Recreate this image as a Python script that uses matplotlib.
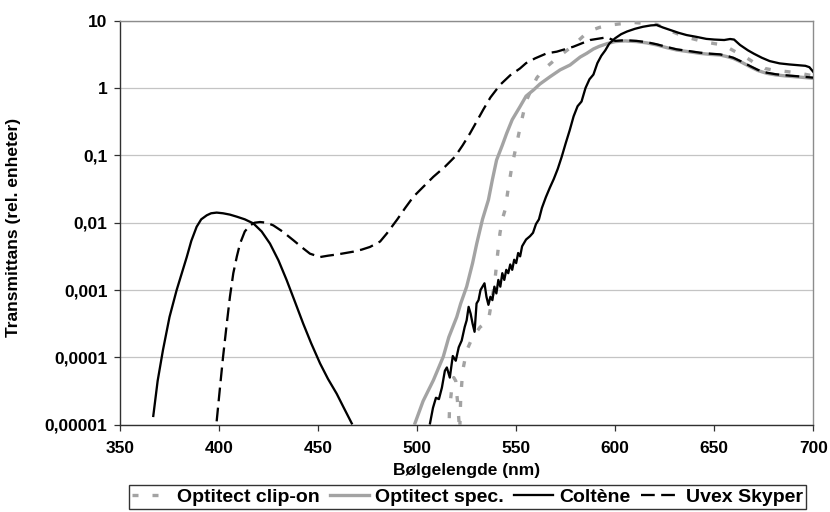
import numpy as np
import matplotlib
matplotlib.use("Agg")
import matplotlib.pyplot as plt
from matplotlib.ticker import FixedLocator, FixedFormatter

plt.rcParams['font.family'] = ['Liberation Sans', 'DejaVu Sans']
plt.rcParams['font.weight'] = 'bold'

# ---- data (log10 of transmittance) ----
clipon_wl = [516.0, 516.3, 517.5, 518.5, 519.5, 520.5, 521.5, 522.0, 523.0, 525.0, 528.0, 531.8,
             534.0, 536.0, 538.0, 539.3, 540.5, 541.8, 543.0, 544.4, 546.0, 547.8, 550.3,
             552.8, 555.0, 557.5, 560.4, 564.0, 568.8, 573.0, 578.0, 582.0, 586.4, 592.0,
             597.4, 603.0, 608.3, 615.0, 620.9, 626.0, 631.9, 638.0, 644.5, 650.0, 654.6,
             660.0, 665.5, 670.0, 675.6, 681.0, 687.4, 693.0, 698.4, 700.0]
clipon_log = [-5.2, -4.8, -4.45, -4.3, -4.35, -4.7, -5.1, -4.6, -4.2, -3.9, -3.7, -3.55,
              -3.5, -3.45, -3.1, -2.85, -2.5, -2.16, -1.95, -1.81, -1.49, -1.17, -0.82,
              -0.475, -0.2, -0.03, 0.15, 0.28, 0.40, 0.50, 0.614, 0.72, 0.84, 0.90,
              0.936, 0.955, 0.976, 0.96, 0.946, 0.87, 0.80, 0.74, 0.69, 0.66, 0.64,
              0.55, 0.465, 0.38, 0.29, 0.26, 0.242, 0.22, 0.19, 0.18]

spec_wl = [498.9, 503.0, 508.2, 513.2, 516.0, 520.0, 522.0, 525.0, 528.0, 530.1, 533.0, 536.0,
           538.0, 540.1, 543.0, 545.2, 548.0, 551.9, 555.0, 558.7, 562.0, 567.1, 572.2,
           577.2, 582.3, 585.6, 589.0, 592.0, 596.0, 600.0, 605.0, 610.8, 616.0, 620.9,
           626.0, 631.0, 637.0, 642.8, 648.0, 652.9, 656.0, 659.6, 664.0, 668.1, 672.0,
           676.5, 681.0, 686.6, 692.0, 696.0, 700.0]
spec_log = [-4.98, -4.65, -4.34, -3.99, -3.7, -3.40, -3.2, -2.95, -2.6, -2.31, -1.95, -1.66,
            -1.36, -1.07, -0.85, -0.673, -0.47, -0.278, -0.12, -0.03, 0.06, 0.168, 0.27,
            0.342, 0.46, 0.515, 0.58, 0.62, 0.66, 0.69, 0.70, 0.69, 0.67, 0.64,
            0.60, 0.565, 0.54, 0.515, 0.50, 0.49, 0.47, 0.44, 0.38, 0.316, 0.26,
            0.218, 0.195, 0.178, 0.165, 0.155, 0.144]

coltene_uv_wl = [366.8, 369.0, 371.7, 375.0, 378.6, 383.7, 386.0, 388.7, 391.0, 393.8, 396.0,
                 398.8, 402.0, 405.5, 408.9, 413.0, 417.3, 421.5, 425.7, 430.0, 434.1, 438.0,
                 442.5, 446.5, 451.0, 455.0, 459.4, 463.0, 467.0]
coltene_uv_log = [-4.87, -4.35, -3.89, -3.4, -3.0, -2.51, -2.27, -2.06, -1.95, -1.89, -1.86,
                  -1.85, -1.86, -1.88, -1.91, -1.95, -2.01, -2.13, -2.31, -2.56, -2.85, -3.15,
                  -3.50, -3.79, -4.09, -4.32, -4.54, -4.75, -4.98]
coltene_vis_wl = [506.5, 508.0, 509.5, 511.0, 512.5, 514.0, 515.0, 516.5, 518.0, 519.5, 521.0,
                  522.5, 524.0, 525.0, 526.0, 527.0, 528.0, 529.0, 530.0, 531.0, 532.0, 533.0,
                  534.0, 535.0, 536.0, 537.0, 538.0, 539.0, 540.0, 541.0, 542.0, 543.0, 544.0,
                  545.0, 546.0, 547.0, 548.0, 549.0, 550.0, 551.0, 552.0, 553.0, 555.0, 557.0,
                  558.5, 560.0, 561.5, 563.0, 565.0, 567.0, 569.0, 571.0, 573.0, 575.0, 577.0,
                  579.0, 581.0, 583.0, 585.0, 587.0, 589.0, 591.0, 593.0, 595.0, 597.0, 600.0,
                  603.0, 606.0, 610.0, 614.0, 618.0, 621.0, 624.0, 628.0, 632.0, 636.0, 641.0,
                  646.0, 650.0, 655.0, 658.0, 660.0, 663.0, 667.0, 670.0, 674.0, 678.0, 683.0,
                  688.0, 692.0, 696.0, 698.0, 700.0]
coltene_vis_log = [-4.98, -4.75, -4.6, -4.62, -4.45, -4.2, -4.15, -4.3, -3.98, -4.05, -3.85,
                   -3.75, -3.55, -3.45, -3.25, -3.35, -3.5, -3.62, -3.2, -3.15, -3.0, -2.95,
                   -2.9, -3.1, -3.22, -3.1, -3.15, -2.95, -3.05, -2.85, -2.95, -2.75, -2.85,
                   -2.7, -2.75, -2.62, -2.7, -2.55, -2.6, -2.45, -2.5, -2.35, -2.25, -2.2,
                   -2.15, -2.02, -1.95, -1.78, -1.62, -1.48, -1.35, -1.2, -1.02, -0.82, -0.63,
                   -0.42, -0.27, -0.2, 0.0, 0.13, 0.2, 0.37, 0.48, 0.56, 0.66, 0.74,
                   0.8, 0.84, 0.88, 0.91, 0.93, 0.936, 0.90, 0.86, 0.82, 0.787, 0.76,
                   0.73, 0.72, 0.713, 0.728, 0.72, 0.64, 0.56, 0.51, 0.45, 0.40, 0.366,
                   0.35, 0.34, 0.33, 0.31, 0.24]

uvex_wl = [398.8, 400.5, 402.0, 403.9, 405.5, 407.2, 409.0, 410.6, 413.0, 415.6, 418.0, 420.7,
           424.0, 427.4, 432.0, 437.5, 442.0, 445.9, 451.0, 455.0, 460.0, 467.8, 472.0, 476.2,
           481.3, 484.7, 490.0, 494.0, 498.1, 503.0, 508.2, 514.0, 519.1, 523.0, 526.7, 530.0,
           533.4, 537.0, 541.8, 547.0, 551.9, 555.0, 559.5, 565.4, 570.5, 578.9, 587.3, 595.7,
           600.0, 605.0, 610.8, 616.0, 620.9, 626.0, 631.0, 637.0, 642.8, 648.0, 652.9, 656.0,
           659.6, 664.0, 668.1, 672.0, 676.5, 681.0, 686.6, 692.0, 696.0, 700.0]
uvex_log = [-4.95, -4.44, -4.0, -3.50, -3.1, -2.75, -2.5, -2.31, -2.13, -2.04, -2.0, -1.99,
            -2.0, -2.04, -2.13, -2.26, -2.37, -2.46, -2.51, -2.49, -2.47, -2.43, -2.40, -2.36,
            -2.28, -2.16, -1.95, -1.78, -1.615, -1.47, -1.318, -1.17, -1.02, -0.85, -0.673, -0.5,
            -0.32, -0.14, 0.045, 0.19, 0.29, 0.37, 0.44, 0.515, 0.54, 0.614, 0.713, 0.753,
            0.70, 0.71, 0.70, 0.68, 0.65, 0.61, 0.575, 0.55, 0.525, 0.51, 0.50, 0.48,
            0.45, 0.39, 0.326, 0.27, 0.228, 0.205, 0.188, 0.175, 0.165, 0.154]

series_names = ['Optitect clip-on', 'Optitect spec.', 'Coltène', 'Uvex Skyper']
y_ticks = [1e-5, 1e-4, 1e-3, 1e-2, 1e-1, 1, 10]
y_tick_labels = ['0,00001', '0,0001', '0,001', '0,01', '0,1', '1', '10']
x_ticks = [350, 400, 450, 500, 550, 600, 650, 700]

# ---- figure ----
fig = plt.figure(figsize=(8.3, 5.12), dpi=100)
ax = fig.add_axes([120 / 830, 1 - 424.7 / 512, (813.3 - 120) / 830, (424.7 - 20.7) / 512])

gray = '#A3A3A3'
ax.plot(clipon_wl, np.power(10.0, clipon_log), color=gray, lw=2.4,
        linestyle=(0, (1.8, 4.2)), label=series_names[0], zorder=3)
ax.plot(spec_wl, np.power(10.0, spec_log), color=gray, lw=2.4,
        label=series_names[1], zorder=4)
col_wl = coltene_uv_wl + [np.nan] + coltene_vis_wl
col_log = coltene_uv_log + [np.nan] + coltene_vis_log
ax.plot(col_wl, np.power(10.0, col_log), color='black', lw=1.65,
        label=series_names[2], zorder=5)
ax.plot(uvex_wl, np.power(10.0, uvex_log), color='black', lw=1.65,
        linestyle=(0, (6, 2.8)), label=series_names[3], zorder=6)

ax.set_yscale('log')
ax.set_ylim(1e-5, 10)
ax.set_xlim(350, 700)
ax.yaxis.set_major_locator(FixedLocator(y_ticks))
ax.yaxis.set_major_formatter(FixedFormatter(y_tick_labels))
ax.yaxis.set_minor_locator(FixedLocator([]))
ax.set_xticks(x_ticks)
ax.set_xticklabels([str(v) for v in x_ticks])

ax.grid(axis='y', which='major', color='#C4C4C4', lw=0.9, zorder=0)
ax.set_axisbelow(True)

for s in ['top', 'right']:
    ax.spines[s].set_color('#8C8C8C')
    ax.spines[s].set_linewidth(1.0)
for s in ['left', 'bottom']:
    ax.spines[s].set_color('#303030')
    ax.spines[s].set_linewidth(1.0)

ax.tick_params(axis='both', direction='out', length=4, width=0.9, color='#303030',
               labelsize=12.5, pad=5)
ax.tick_params(axis='x', pad=8)
for lab in ax.get_xticklabels() + ax.get_yticklabels():
    lab.set_fontweight('bold')

fig.text(14 / 830, 1 - 227 / 512, 'Transmittans (rel. enheter)', rotation=90,
         ha='center', va='center', fontsize=12.5, fontweight='bold')
fig.text(466.7 / 830, 1 - 470 / 512, 'Bølgelengde (nm)', ha='center', va='center',
         fontsize=12.5, fontweight='bold')

leg = fig.legend(loc='center', bbox_to_anchor=(467.5 / 830, 1 - 497 / 512), ncol=4,
                 frameon=True, fancybox=False, shadow=False, handlelength=2.0,
                 handletextpad=0.3, columnspacing=0.55, borderpad=0.15,
                 prop={'size': 14, 'weight': 'bold'})
leg.get_frame().set_edgecolor('black')
leg.get_frame().set_linewidth(1.0)

fig.savefig('out.png', dpi=100)
